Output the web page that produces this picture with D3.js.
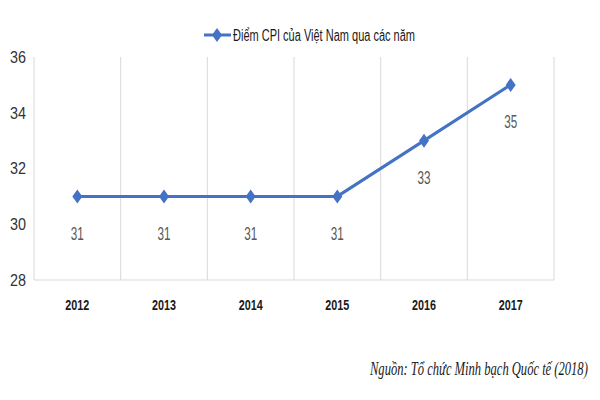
<!DOCTYPE html>
<html><head><meta charset="utf-8">
<script src="https://cdn.jsdelivr.net/npm/d3@7"></script>
<style>body{margin:0;background:#fff}svg{display:block}</style>
</head><body>
<svg id="c" width="600" height="400"></svg>
<script>
const years = ["2012","2013","2014","2015","2016","2017"];
const cpiScores = [31,31,31,31,33,35];
const yTicks = [28,30,32,34,36];
const seriesName = "Điểm CPI của Việt Nam qua các năm";
const sourceNote = "Nguồn: Tổ chức Minh bạch Quốc tế (2018)";

const svg = d3.select("#c");
const mLeft = 34, mRight = 554, mTop = 57, mBottom = 280;
const narrow = "'Liberation Sans Narrow','Arial Narrow','Liberation Sans',sans-serif";
const blue = "#4472C4";

const x = d3.scaleBand().domain(years).range([mLeft, mRight]).padding(0);
const y = d3.scaleLinear().domain([28,36]).range([mBottom, mTop]);

// vertical gridlines at band boundaries
const bounds = years.map(d => x(d) + x.bandwidth());
svg.append("g").selectAll("line").data(bounds).join("line")
  .attr("x1", d => d).attr("x2", d => d)
  .attr("y1", mTop).attr("y2", mBottom)
  .attr("stroke", "#d9d9d9").attr("stroke-width", 1);

svg.append("line").attr("x1", mLeft).attr("x2", mLeft).attr("y1", mTop).attr("y2", mBottom)
  .attr("stroke", "#d9d9d9");
svg.append("line").attr("x1", mLeft).attr("x2", mRight).attr("y1", mBottom).attr("y2", mBottom)
  .attr("stroke", "#d9d9d9");

// y tick labels
svg.append("g").selectAll("text").data(yTicks).join("text")
  .attr("x", 26).attr("y", d => y(d)).attr("dy", "0.35em")
  .attr("text-anchor", "end")
  .attr("font-family", narrow).attr("font-size", 17).attr("fill", "#333")
  .attr("textLength", 16).attr("lengthAdjust", "spacingAndGlyphs")
  .text(d => d);

// x tick labels
svg.append("g").selectAll("text").data(years).join("text")
  .attr("x", d => x(d) + x.bandwidth()/2).attr("y", 305).attr("dy", "0.35em")
  .attr("text-anchor", "middle")
  .attr("font-family", narrow).attr("font-size", 15).attr("font-weight", "bold").attr("fill", "#1a1a1a")
  .attr("textLength", 24).attr("lengthAdjust", "spacingAndGlyphs")
  .text(d => d);

const data = years.map((yr, i) => ({yr, v: cpiScores[i]}));
const line = d3.line().x(d => x(d.yr) + x.bandwidth()/2).y(d => y(d.v));
svg.append("path").datum(data).attr("d", line)
  .attr("fill", "none").attr("stroke", blue).attr("stroke-width", 3).attr("stroke-linejoin", "round");

const diamond = "M0,-7L5,0L0,7L-5,0Z";
svg.append("g").selectAll("path").data(data).join("path")
  .attr("d", diamond)
  .attr("transform", d => `translate(${x(d.yr) + x.bandwidth()/2},${y(d.v)})`)
  .attr("fill", blue);

// data labels
svg.append("g").selectAll("text").data(data).join("text")
  .attr("x", d => x(d.yr) + x.bandwidth()/2).attr("y", d => y(d.v) + 37).attr("dy", "0.35em")
  .attr("text-anchor", "middle")
  .attr("font-family", narrow).attr("font-size", 18).attr("fill", "#595959")
  .attr("textLength", 13).attr("lengthAdjust", "spacingAndGlyphs")
  .text(d => d.v);

// legend
const lg = svg.append("g");
lg.append("line").attr("x1", 204).attr("x2", 231).attr("y1", 35).attr("y2", 35)
  .attr("stroke", blue).attr("stroke-width", 3);
lg.append("path").attr("d", diamond).attr("transform", "translate(217,35)").attr("fill", blue);
lg.append("text").attr("x", 233).attr("y", 35).attr("dy", "0.35em")
  .attr("font-family", narrow).attr("font-size", 16).attr("fill", "#1a1a1a")
  .attr("textLength", 182).attr("lengthAdjust", "spacingAndGlyphs")
  .text(seriesName);

// source note (horizontally condensed via transform)
const src = svg.append("text").attr("x", 0).attr("y", 0).attr("dy", "0.35em")
  .attr("font-family", "'Liberation Serif','Times New Roman',serif").attr("font-style", "italic")
  .attr("font-size", 19).attr("fill", "#1a1a1a")
  .text(sourceNote);
const natW = src.node().getComputedTextLength();
const sx = 218 / natW;
src.attr("transform", `translate(370,368) scale(${sx},1)`);
</script>
</body></html>
